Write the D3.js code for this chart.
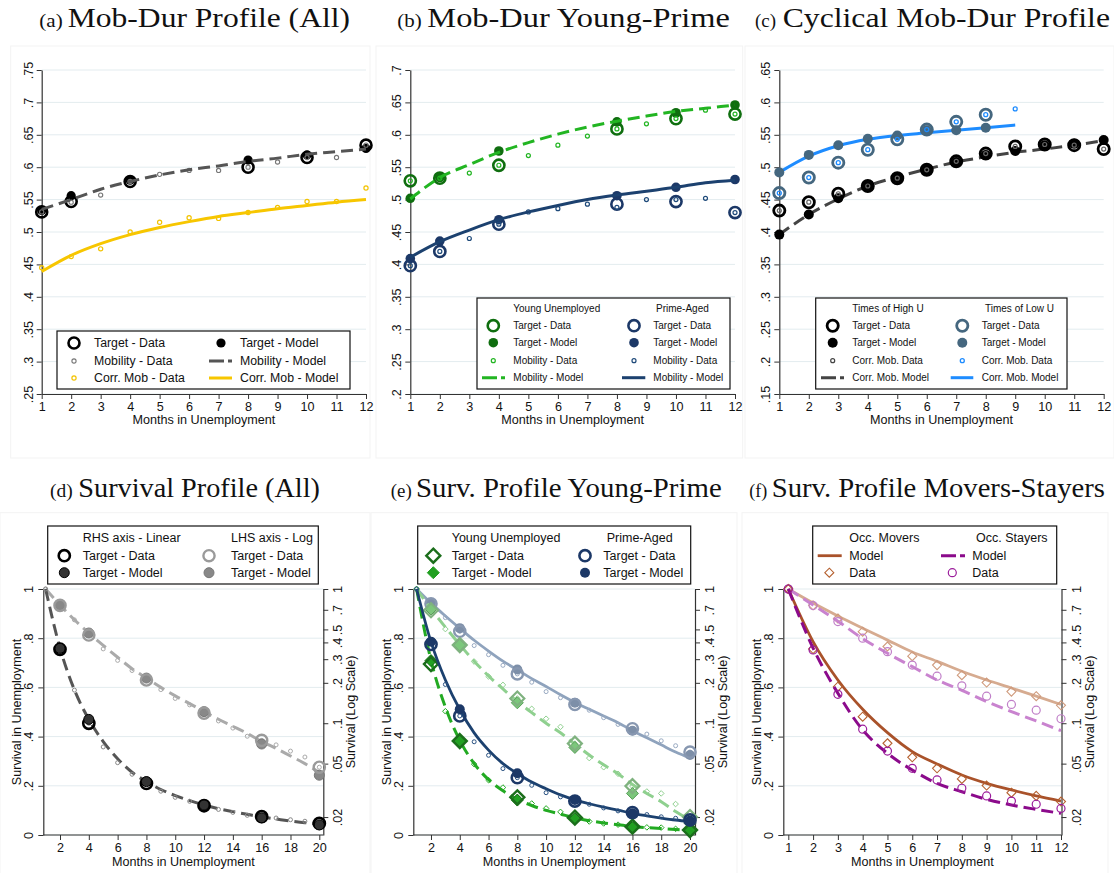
<!DOCTYPE html>
<html>
<head>
<meta charset="utf-8">
<script src="https://cdn.jsdelivr.net/npm/d3@7"></script>
<style>
body { margin: 0; background: #fff; }
svg text { font-family: "Liberation Sans", Arial, sans-serif; fill: #111; }
svg text.ttl { font-family: "Liberation Serif", "Times New Roman", serif; }
</style>
</head>
<body>
<svg id="chart" width="1114" height="873"></svg>
<script>
// ---------- months / ticks ----------
var months12 = [1, 2, 3, 4, 5, 6, 7, 8, 9, 10, 11, 12];
var months20 = [1, 2, 3, 4, 5, 6, 7, 8, 9, 10, 11, 12, 13, 14, 15, 16, 17, 18, 19, 20];
var targetMonths = [1, 2, 4, 8, 10, 12];
var survTargetMonths = [2, 4, 8, 12, 16, 20];
var lowTargetMonths = [1, 2, 3, 4, 5, 6, 7, 8];
var lowCorrMonths = [1, 2, 3, 4, 5, 6, 7, 8, 9];

var aYTicks = [.25, .3, .35, .4, .45, .5, .55, .6, .65, .7, .75];
var bYTicks = [.2, .25, .3, .35, .4, .45, .5, .55, .6, .65, .7];
var cYTicks = [.15, .2, .25, .3, .35, .4, .45, .5, .55, .6, .65];
var survYTicks = [0, .2, .4, .6, .8, 1];
var survLogTicks = [.02, .05, .1, .2, .3, .4, .5, .7, 1];
var survXTicks = [2, 4, 6, 8, 10, 12, 14, 16, 18, 20];

// ---------- (a) Mob-Dur Profile (All) ----------
var aTargetData  = [.531, .547, .578, .600, .615, .634];
var aTargetModel = [.533, .556, .580, .611, .619, .629];
var aMobData  = [.531, .546, .557, .578, .589, .595, .595, .600, .608, .615, .615, .634];
var aMobModel = [.535, .550, .566, .578, .588, .596, .602, .609, .614, .620, .624, .628];
var aCorrData  = [.445, .462, .474, .500, .515, .522, .521, .530, .538, .547, .547, .568];
var aCorrModel = [.439, .464, .482, .496, .507, .516, .524, .530, .536, .541, .546, .550];

// ---------- (b) Mob-Dur Young-Prime ----------
var bYoungTargetData  = [.529, .533, .553, .609, .625, .632];
var bYoungTargetModel = [.502, .534, .575, .620, .634, .646];
var bYoungMobData  = [.529, .533, .541, .553, .568, .584, .598, .609, .617, .625, .638, .632];
var bYoungMobModel = [.501, .534, .554, .573, .588, .601, .612, .621, .629, .636, .641, .646];
var bPrimeTargetData  = [.398, .420, .462, .493, .497, .480];
var bPrimeTargetModel = [.409, .436, .469, .506, .519, .531];
var bPrimeMobData  = [.398, .420, .440, .462, .481, .486, .493, .488, .500, .500, .502, .480];
var bPrimeMobModel = [.411, .435, .453, .469, .481, .491, .500, .507, .513, .519, .526, .530];

// ---------- (c) Cyclical Mob-Dur Profile ----------
var cHighTargetData  = [.433, .446, .459, .471, .483, .496, .509, .521, .532, .535, .534, .528];
var cHighTargetModel = [.396, .427, .452, .471, .483, .496, .508, .519, .525, .534, .536, .542];
var cHighCorrData  = [.433, .446, .459, .471, .483, .496, .509, .521, .532, .535, .534, .528];
var cHighCorrModel = [.396, .427, .451, .471, .485, .497, .508, .516, .523, .528, .534, .541];
var cLowTargetData  = [.460, .484, .507, .527, .543, .558, .570, .581];
var cLowTargetModel = [.492, .519, .534, .544, .549, .557, .557, .561];
var cLowCorrData  = [.460, .484, .507, .527, .543, .558, .570, .581, .590];
var cLowCorrModel = [.492, .517, .533, .543, .549, .553, .557, .561, .565];

// ---------- (d) Survival Profile (All) ----------
var dTargetData  = [.755, .454, .210, .119, .0745, .047];
var dTargetModel = [.759, .470, .217, .122, .070, .041];
var dSurvData  = [1, .755, .589, .454, .358, .294, .247, .210, .178, .153, .137, .119, .104, .092, .080, .0745, .069, .062, .056, .047];
var dSurvModel = [1, .76, .59, .47, .38, .31, .255, .217, .185, .16, .14, .122, .107, .095, .084, .073, .065, .057, .050, .043];

// ---------- (e) Surv. Profile Young-Prime ----------
var eYoungTargetData  = [.695, .382, .153, .0705, .034, .020];
var eYoungTargetModel = [.709, .382, .142, .066, .030, .018];
var eYoungData  = [1, .70, .503, .382, .288, .223, .193, .153, .128, .108, .094, .0705, .055, .047, .042, .034, .031, .030, .025, .020];
var eYoungModel = [1, .71, .52, .385, .29, .225, .18, .145, .12, .10, .085, .07, .058, .049, .042, .035, .030, .026, .022, .019];
var ePrimeTargetData  = [.775, .484, .233, .138, .091, .061];
var ePrimeTargetModel = [.786, .511, .251, .142, .088, .058];
var ePrimeData  = [1, .78, .612, .484, .379, .324, .27, .233, .202, .172, .155, .138, .125, .11, .098, .091, .083, .074, .068, .061];
var ePrimeModel = [1, .785, .63, .51, .415, .345, .29, .25, .215, .188, .163, .143, .127, .113, .101, .088, .078, .069, .061, .055];

// ---------- (f) Surv. Profile Movers-Stayers ----------
var fMoversData  = [1, .756, .603, .481, .373, .316, .271, .228, .201, .172, .159, .136];
var fMoversModel = [1, .786, .630, .511, .416, .339, .289, .244, .210, .183, .159, .138];
var fStayersData  = [1, .752, .572, .430, .341, .271, .224, .190, .159, .138, .125, .108];
var fStayersModel = [1, .76, .576, .427, .332, .264, .210, .176, .145, .122, .104, .088];

var GRID = "#e3ecef";
var DASH = "12,6";
var svg = d3.select("#chart");

function fmtTick(d) {
    return String(+(+d).toFixed(2)).replace(/^0\./, ".");
}

function styleAxis(a) {
    a.attr("font-size", null).attr("font-family", null);
    a.selectAll("text").attr("fill", "#111").style("font-size", "12.6px");
    a.selectAll("line").attr("stroke", "#333");
    a.select(".domain").attr("stroke", "#333").attr("stroke-width", 1.2);
}

function rotateLabels(a, off) {
    a.selectAll(".tick text")
      .attr("x", 0)
      .attr("dy", 0)
      .attr("y", off)
      .attr("transform", "rotate(-90)")
      .style("text-anchor", "middle");
}

function frame(x0, y0, x1, y1) {
    svg.append("rect")
      .attr("x", x0).attr("y", y0)
      .attr("width", x1 - x0).attr("height", y1 - y0)
      .attr("fill", "none")
      .attr("stroke", "#f3f3f3");
}

function title(xl, xle, xm, xme, base, lab, main) {
    svg.append("text").attr("class", "ttl")
      .attr("x", xl).attr("y", base)
      .style("font-size", "18px")
      .attr("textLength", xle - xl).attr("lengthAdjust", "spacingAndGlyphs")
      .text(lab);
    svg.append("text").attr("class", "ttl")
      .attr("x", xm).attr("y", base)
      .style("font-size", "28px")
      .attr("textLength", xme - xm).attr("lengthAdjust", "spacingAndGlyphs")
      .text(main);
}

// ---------- marks ----------
function pts(x, y, months, vals) {
    return vals.map(function(v, i) { return [x(months[i]), y(v)]; });
}

function rings(g, p, r, color, sw) {
    g.append("g").selectAll("circle")
      .data(p).enter().append("circle")
      .attr("cx", function(d) { return d[0]; })
      .attr("cy", function(d) { return d[1]; })
      .attr("r", r)
      .attr("fill", "none")
      .attr("stroke", color)
      .attr("stroke-width", sw);
}

function dots(g, p, r, color, stroke) {
    g.append("g").selectAll("circle")
      .data(p).enter().append("circle")
      .attr("cx", function(d) { return d[0]; })
      .attr("cy", function(d) { return d[1]; })
      .attr("r", r)
      .attr("fill", color)
      .attr("stroke", stroke || "none")
      .attr("stroke-width", 1);
}

function diamonds(g, p, s, fill, stroke, sw) {
    g.append("g").selectAll("path")
      .data(p).enter().append("path")
      .attr("d", function(d) {
          return "M" + d[0] + "," + (d[1] - s) + "L" + (d[0] + s) + "," + d[1] +
                 "L" + d[0] + "," + (d[1] + s) + "L" + (d[0] - s) + "," + d[1] + "Z";
      })
      .attr("fill", fill)
      .attr("stroke", stroke)
      .attr("stroke-width", sw);
}

function line(g, p, color, w, dash) {
    g.append("path")
      .attr("d", d3.line().curve(d3.curveMonotoneX)(p))
      .attr("fill", "none")
      .attr("stroke", color)
      .attr("stroke-width", w)
      .attr("stroke-dasharray", dash || null);
}

function legendBox(x0, y0, x1, y1) {
    var g = svg.append("g");
    g.append("rect")
      .attr("x", x0).attr("y", y0)
      .attr("width", x1 - x0).attr("height", y1 - y0)
      .attr("fill", "#fff")
      .attr("stroke", "#111")
      .attr("stroke-width", 1.2);
    return g;
}

function legendText(g, x, y, s, size) {
    g.append("text")
      .attr("x", x).attr("y", y).attr("dy", "0.35em")
      .style("font-size", size + "px")
      .text(s);
}

// ---------- panel frames ----------
function topPanel(x0, x1, yTicks) {
    var g = svg.append("g");
    var x = d3.scaleLinear().domain([1, 12]).range([x0, x1]);
    var y = d3.scaleLinear().domain([yTicks[0], yTicks[yTicks.length - 1]]).range([394, 70]);

    g.append("g").selectAll("line")
      .data(yTicks).enter().append("line")
      .attr("x1", x0).attr("x2", x1)
      .attr("y1", y).attr("y2", y)
      .attr("stroke", GRID);

    var ya = g.append("g")
      .attr("transform", "translate(" + x0 + ",0)")
      .call(d3.axisLeft(y).tickValues(yTicks).tickSize(5).tickSizeOuter(0).tickFormat(fmtTick));
    styleAxis(ya);
    rotateLabels(ya, -9);

    var xa = g.append("g")
      .attr("transform", "translate(0,394)")
      .call(d3.axisBottom(x).tickValues(months12).tickSize(5).tickSizeOuter(0));
    styleAxis(xa);

    g.append("text")
      .attr("x", (x0 + x1) / 2).attr("y", 423.5)
      .attr("text-anchor", "middle")
      .style("font-size", "12.6px")
      .text("Months in Unemployment");

    return { g: g, x: x, y: y };
}

function survPanel(ax0, ax1, xd0, xd1, xMax, xTicks) {
    var g = svg.append("g");
    var x = d3.scaleLinear().domain([1, xMax]).range([xd0, xd1]);
    var y = d3.scaleLinear().domain([0, 1]).range([835, 589]);
    var yl = d3.scaleLog().domain([0.0147, 1]).range([835, 589]);

    g.append("g").selectAll("line")
      .data(survYTicks).enter().append("line")
      .attr("x1", ax0).attr("x2", ax1)
      .attr("y1", y).attr("y2", y)
      .attr("stroke", GRID);

    var ya = g.append("g")
      .attr("transform", "translate(" + ax0 + ",0)")
      .call(d3.axisLeft(y).tickValues(survYTicks).tickSize(5).tickSizeOuter(0).tickFormat(fmtTick));
    styleAxis(ya);
    rotateLabels(ya, -10);

    var yr = g.append("g")
      .attr("transform", "translate(" + ax1 + ",0)")
      .call(d3.axisRight(yl).tickValues(survLogTicks).tickSize(5).tickSizeOuter(0).tickFormat(fmtTick));
    styleAxis(yr);
    rotateLabels(yr, 19);

    var xa = g.append("g")
      .attr("transform", "translate(0,835)")
      .call(d3.axisBottom(x).tickValues(xTicks).tickSize(5).tickSizeOuter(0));
    styleAxis(xa);
    xa.select(".domain").remove();
    g.append("line")
      .attr("x1", ax0).attr("x2", ax1)
      .attr("y1", 835).attr("y2", 835)
      .attr("stroke", "#333").attr("stroke-width", 1.2);

    g.append("text")
      .attr("x", (ax0 + ax1) / 2).attr("y", 866)
      .attr("text-anchor", "middle")
      .style("font-size", "12.6px")
      .text("Months in Unemployment");
    g.append("text")
      .attr("transform", "translate(" + (ax0 - 22) + ",712) rotate(-90)")
      .attr("text-anchor", "middle")
      .style("font-size", "12.6px")
      .text("Survival in Unemployment");
    g.append("text")
      .attr("transform", "translate(" + (ax1 + 32) + ",712) rotate(-90)")
      .attr("text-anchor", "middle")
      .style("font-size", "12.6px")
      .text("Survival (Log Scale)");

    return { g: g, x: x, y: y, yl: yl };
}

// ---------- faint graph regions ----------
frame(10.7, 46, 370, 458);
frame(376, 46, 742.7, 458);
frame(745, 46, 1114, 458);
frame(0, 512.7, 370, 880);
frame(371, 512.7, 737, 880);
frame(742, 512.7, 1108, 880);

// ---------- titles ----------
title(39.3, 62.7, 67.7, 350, 26.7, "(a)", "Mob-Dur Profile (All)");
title(397.3, 421.7, 427.3, 730, 26.7, "(b)", "Mob-Dur Young-Prime");
title(755, 776, 782.7, 1110, 26.7, "(c)", "Cyclical Mob-Dur Profile");
title(50, 72.7, 78.3, 320, 496.7, "(d)", "Survival Profile (All)");
title(390.7, 411.7, 416, 721.7, 496.7, "(e)", "Surv. Profile Young-Prime");
title(749.3, 767.3, 771.7, 1105, 496.7, "(f)", "Surv. Profile Movers-Stayers");

// ---------- (a) ----------
var A = topPanel(41.7, 366, aYTicks);
rings(A.g, pts(A.x, A.y, targetMonths, aTargetData), 5.5, "#000", 2.6);
dots(A.g, pts(A.x, A.y, targetMonths, aTargetModel), 4.6, "#000");
rings(A.g, pts(A.x, A.y, months12, aMobData), 2.1, "#777", 1.1);
line(A.g, pts(A.x, A.y, months12, aMobModel), "#555", 3, DASH);
rings(A.g, pts(A.x, A.y, months12, aCorrData), 2.1, "#f3c300", 1.2);
line(A.g, pts(A.x, A.y, months12, aCorrModel), "#f7c600", 3);

var la = legendBox(57, 331, 350, 389);
rings(la, [[74, 343]], 5.5, "#000", 2.6);
legendText(la, 94, 343, "Target - Data", 12.3);
dots(la, [[221, 343]], 4.6, "#000");
legendText(la, 240, 343, "Target - Model", 12.3);
rings(la, [[74, 361]], 2.1, "#777", 1.1);
legendText(la, 94, 361, "Mobility - Data", 12.3);
line(la, [[209, 361], [232, 361]], "#555", 3, "15,4");
legendText(la, 240, 361, "Mobility - Model", 12.3);
rings(la, [[74, 378]], 2.1, "#f3c300", 1.2);
legendText(la, 94, 378, "Corr. Mob - Data", 12.3);
line(la, [[209, 378], [232, 378]], "#f7c600", 3);
legendText(la, 240, 378, "Corr. Mob - Model", 12.3);

// ---------- (b) ----------
var YDARK = "#0f6e0f", YBRIGHT = "#22b522", NAVY = "#1c3867";
var B = topPanel(410.3, 735, bYTicks);
rings(B.g, pts(B.x, B.y, targetMonths, bYoungTargetData), 5.6, YDARK, 2.6);
dots(B.g, pts(B.x, B.y, targetMonths, bYoungTargetModel), 4.8, YDARK);
rings(B.g, pts(B.x, B.y, months12, bYoungMobData), 2, YBRIGHT, 1.2);
line(B.g, pts(B.x, B.y, months12, bYoungMobModel), YBRIGHT, 3, DASH);
rings(B.g, pts(B.x, B.y, targetMonths, bPrimeTargetData), 5.6, NAVY, 2.6);
dots(B.g, pts(B.x, B.y, targetMonths, bPrimeTargetModel), 4.8, NAVY);
rings(B.g, pts(B.x, B.y, months12, bPrimeMobData), 2, "#1f4a7a", 1.2);
line(B.g, pts(B.x, B.y, months12, bPrimeMobModel), "#1c416f", 3);

var lb = legendBox(477, 298, 730, 389);
legendText(lb, 513.3, 308.7, "Young Unemployed", 10);
legendText(lb, 656, 308.7, "Prime-Aged", 10);
rings(lb, [[493.3, 325.7]], 5.6, YDARK, 2.6);
legendText(lb, 513.3, 325.7, "Target - Data", 10);
dots(lb, [[493.3, 342.7]], 4.8, YDARK);
legendText(lb, 513.3, 342.7, "Target - Model", 10);
rings(lb, [[493.3, 360.7]], 2, YBRIGHT, 1.2);
legendText(lb, 513.3, 360.7, "Mobility - Data", 10);
line(lb, [[482, 377.7], [505, 377.7]], YBRIGHT, 3, "15,4");
legendText(lb, 513.3, 377.7, "Mobility - Model", 10);
rings(lb, [[634, 325.7]], 5.6, NAVY, 2.6);
legendText(lb, 653.3, 325.7, "Target - Data", 10);
dots(lb, [[634, 342.7]], 4.8, NAVY);
legendText(lb, 653.3, 342.7, "Target - Model", 10);
rings(lb, [[634, 360.7]], 2, "#1f4a7a", 1.2);
legendText(lb, 653.3, 360.7, "Mobility - Data", 10);
line(lb, [[622, 377.7], [645.3, 377.7]], "#1c416f", 3);
legendText(lb, 653.3, 377.7, "Mobility - Model", 10);

// ---------- (c) ----------
var STEEL = "#45677f", BLUE = "#1e8cff";
var C = topPanel(779.3, 1103.7, cYTicks);
line(C.g, pts(C.x, C.y, months12, cHighCorrModel), "#444", 3, DASH);
line(C.g, pts(C.x, C.y, lowCorrMonths, cLowCorrModel), BLUE, 3);
rings(C.g, pts(C.x, C.y, months12, cHighTargetData), 5.6, "#000", 2.8);
dots(C.g, pts(C.x, C.y, months12, cHighTargetModel), 5, "#000");
rings(C.g, pts(C.x, C.y, months12, cHighCorrData), 2, "#666", 1.2);
rings(C.g, pts(C.x, C.y, lowTargetMonths, cLowTargetData), 5.6, STEEL, 2.8);
dots(C.g, pts(C.x, C.y, lowTargetMonths, cLowTargetModel), 5, STEEL);
rings(C.g, pts(C.x, C.y, lowCorrMonths, cLowCorrData), 2, BLUE, 1.3);

var lc = legendBox(815.7, 298, 1067, 389);
legendText(lc, 852.3, 308.7, "Times of High U", 10);
legendText(lc, 985, 308.7, "Times of Low U", 10);
rings(lc, [[832.7, 325.7]], 5.6, "#000", 2.8);
legendText(lc, 852.3, 325.7, "Target - Data", 10);
dots(lc, [[832.7, 342.7]], 5, "#000");
legendText(lc, 852.3, 342.7, "Target - Model", 10);
rings(lc, [[832.7, 360.7]], 2, "#444", 1.2);
legendText(lc, 852.3, 360.7, "Corr. Mob. Data", 10);
line(lc, [[821, 377.7], [844, 377.7]], "#444", 3, "15,4");
legendText(lc, 852.3, 377.7, "Corr. Mob. Model", 10);
rings(lc, [[962.3, 325.7]], 5.6, STEEL, 2.8);
legendText(lc, 981.7, 325.7, "Target - Data", 10);
dots(lc, [[962.3, 342.7]], 5, STEEL);
legendText(lc, 981.7, 342.7, "Target - Model", 10);
rings(lc, [[962.3, 360.7]], 2, BLUE, 1.3);
legendText(lc, 981.7, 360.7, "Corr. Mob. Data", 10);
line(lc, [[950.7, 377.7], [973.3, 377.7]], BLUE, 3);
legendText(lc, 981.7, 377.7, "Corr. Mob. Model", 10);

// ---------- (d) ----------
var D = survPanel(43.3, 323.3, 45.6, 319.3, 20, survXTicks);
// log scale (light grey)
line(D.g, pts(D.x, D.yl, months20, dSurvModel), "#aaa", 3, DASH);
rings(D.g, pts(D.x, D.yl, months20, dSurvData), 2, "#aaa", 1);
dots(D.g, pts(D.x, D.yl, survTargetMonths, dTargetModel), 5, "#888", "#777");
rings(D.g, pts(D.x, D.yl, survTargetMonths, dTargetData), 5.6, "#9a9a9a", 2.4);
// linear (dark)
line(D.g, pts(D.x, D.y, months20, dSurvModel), "#555", 3, DASH);
rings(D.g, pts(D.x, D.y, months20, dSurvData), 2, "#888", 1);
rings(D.g, pts(D.x, D.y, survTargetMonths, dTargetData), 5.6, "#000", 2.6);
dots(D.g, pts(D.x, D.y, survTargetMonths, dTargetModel), 5, "#333", "#000");

var ld = legendBox(47.7, 526, 318.3, 584);
legendText(ld, 82.7, 537.7, "RHS axis - Linear", 12.5);
legendText(ld, 231, 537.7, "LHS axis - Log", 12.5);
rings(ld, [[64.3, 555.7]], 5.6, "#000", 2.6);
legendText(ld, 82.7, 555.7, "Target - Data", 12.5);
dots(ld, [[64.3, 572.7]], 5, "#333", "#000");
legendText(ld, 82.7, 572.7, "Target - Model", 12.5);
rings(ld, [[209, 555.7]], 5.6, "#9a9a9a", 2.4);
legendText(ld, 231, 555.7, "Target - Data", 12.5);
dots(ld, [[209, 572.7]], 5, "#888", "#777");
legendText(ld, 231, 572.7, "Target - Model", 12.5);

// ---------- (e) ----------
var E = survPanel(413.3, 695, 416.6, 690, 20, survXTicks);
// log scale (light)
line(E.g, pts(E.x, E.yl, months20, ePrimeModel), "#8fa3bd", 2.8);
rings(E.g, pts(E.x, E.yl, months20, ePrimeData), 2, "#99aac2", 1);
dots(E.g, pts(E.x, E.yl, survTargetMonths, ePrimeTargetModel), 5, "#7d8fa8");
rings(E.g, pts(E.x, E.yl, survTargetMonths, ePrimeTargetData), 5.6, "#8797b0", 2.4);
line(E.g, pts(E.x, E.yl, months20, eYoungModel), "#8fd08f", 3, DASH);
diamonds(E.g, pts(E.x, E.yl, months20, eYoungData), 2.8, "none", "#8fd08f", 1);
diamonds(E.g, pts(E.x, E.yl, survTargetMonths, eYoungTargetModel), 6, "#7cc77c", "#5a9f5a", 1);
diamonds(E.g, pts(E.x, E.yl, survTargetMonths, eYoungTargetData), 7, "none", "#7fb27f", 2.2);
// linear (dark)
line(E.g, pts(E.x, E.y, months20, eYoungModel), "#22aa22", 3, DASH);
diamonds(E.g, pts(E.x, E.y, months20, eYoungData), 2.8, "none", "#22aa22", 1);
diamonds(E.g, pts(E.x, E.y, survTargetMonths, eYoungTargetModel), 6, "#22a022", "#146814", 1);
diamonds(E.g, pts(E.x, E.y, survTargetMonths, eYoungTargetData), 7, "none", "#1b6e1b", 2.4);
line(E.g, pts(E.x, E.y, months20, ePrimeModel), "#1c416f", 2.8);
rings(E.g, pts(E.x, E.y, months20, ePrimeData), 2, "#2a5282", 1);
dots(E.g, pts(E.x, E.y, survTargetMonths, ePrimeTargetModel), 5, NAVY);
rings(E.g, pts(E.x, E.y, survTargetMonths, ePrimeTargetData), 5.6, NAVY, 2.6);

var le = legendBox(417.7, 526, 690.7, 584);
legendText(le, 451.7, 537.7, "Young Unemployed", 12.5);
legendText(le, 606.7, 537.7, "Prime-Aged", 12.5);
diamonds(le, [[433.3, 555.7]], 7, "none", "#1b6e1b", 2.4);
legendText(le, 451.7, 555.7, "Target - Data", 12.5);
diamonds(le, [[433.3, 572.7]], 6, "#22a022", "#22a022", 1);
legendText(le, 451.7, 572.7, "Target - Model", 12.5);
rings(le, [[585, 555.7]], 5.6, NAVY, 2.6);
legendText(le, 603.3, 555.7, "Target - Data", 12.5);
dots(le, [[585, 572.7]], 5, NAVY);
legendText(le, 603.3, 572.7, "Target - Model", 12.5);

// ---------- (f) ----------
var BROWN = "#a9522a", PURPLE = "#8b0a8b";
var F = survPanel(783.3, 1061.5, 788.3, 1061, 12, months12);
// log scale (light)
line(F.g, pts(F.x, F.yl, months12, fMoversModel), "#d6ab90", 2.8);
diamonds(F.g, pts(F.x, F.yl, months12, fMoversData), 4.5, "none", "#cf9a7c", 1.1);
line(F.g, pts(F.x, F.yl, months12, fStayersModel), "#c983cf", 3, DASH);
rings(F.g, pts(F.x, F.yl, months12, fStayersData), 4, "#c07fc8", 1.2);
// linear (dark)
line(F.g, pts(F.x, F.y, months12, fMoversModel), BROWN, 2.8);
diamonds(F.g, pts(F.x, F.y, months12, fMoversData), 4.5, "none", "#b5602f", 1.1);
line(F.g, pts(F.x, F.y, months12, fStayersModel), PURPLE, 3, DASH);
rings(F.g, pts(F.x, F.y, months12, fStayersData), 4, "#9b1c9b", 1.2);

var lf = legendBox(812.7, 526, 1056.7, 584);
legendText(lf, 849.3, 537.7, "Occ. Movers", 12.5);
legendText(lf, 976, 537.7, "Occ. Stayers", 12.5);
line(lf, [[817.7, 555.7], [841.7, 555.7]], BROWN, 2.8);
legendText(lf, 849.3, 555.7, "Model", 12.5);
diamonds(lf, [[829.3, 572.7]], 4.5, "none", "#b5602f", 1.1);
legendText(lf, 849.3, 572.7, "Data", 12.5);
line(lf, [[941, 555.7], [965, 555.7]], PURPLE, 3, "15,4");
legendText(lf, 972.3, 555.7, "Model", 12.5);
rings(lf, [[952.3, 572.7]], 4, "#9b1c9b", 1.2);
legendText(lf, 972.3, 572.7, "Data", 12.5);
</script>
</body>
</html>
